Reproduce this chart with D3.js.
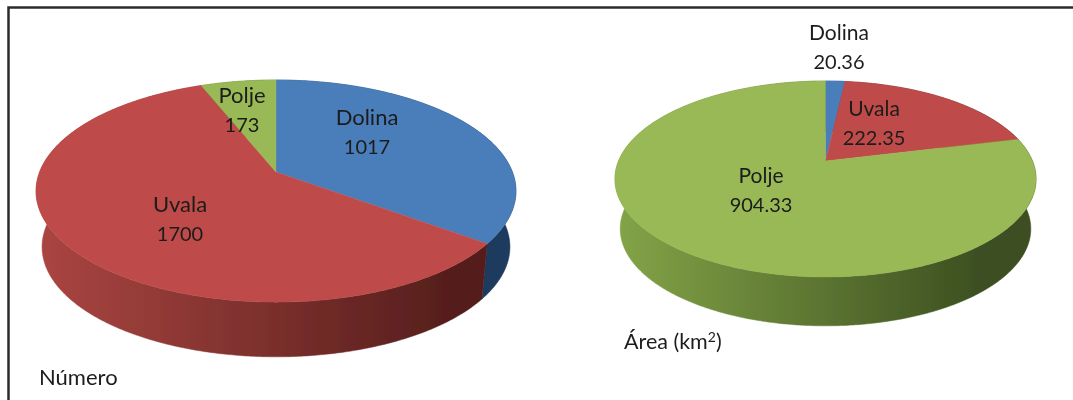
<!DOCTYPE html>
<html><head><meta charset="utf-8">
<script src="https://cdn.jsdelivr.net/npm/d3@7"></script>
<style>html,body{margin:0;background:#fff;overflow:hidden}text{font-family:Lato,"Open Sans",sans-serif;fill:#1c1c1c}</style>
</head><body><svg id="c" width="1073" height="400"></svg>
<script>
const categories = ["Dolina","Uvala","Polje"];
const numeroValues = [1017,1700,173];
const numeroLabels = ["1017","1700","173"];
const areaValues = [20.36,222.35,904.33];
const areaLabels = ["20.36","222.35","904.33"];
const topColors = ["#4a7ebb","#be4b48","#98b954"];
const wallLeft = ["#2c5687","#aa4541","#83a347"];
const wallRight = ["#1c3a5e","#551e1c","#3c4f20"];

const svg = d3.select("#c");
const defs = svg.append("defs");
defs.append("filter").attr("id","soft").append("feGaussianBlur").attr("stdDeviation",0.6);
const root = svg.append("g").attr("filter","url(#soft)");
root.append("path").attr("d","M8.5 400V7.5H1073").attr("fill","none").attr("stroke","#2c2c2c").attr("stroke-width",2.5);

function drawPie(id, values, o){
  const pie = d3.pie().sort(null).startAngle(0).endAngle(2*Math.PI)(values);
  const top = a => { const u=Math.sin(a), v=-Math.cos(a), w=1-o.k*v;
    return [o.cx+o.rx*u/w, o.cy+o.ry*v/w]; };
  const bot = a => { const u=Math.sin(a), v=-Math.cos(a), w=1-o.k*v;
    return [o.cx+o.rx*o.bs*u/w, o.cy+o.depth+o.ry*o.bsy*v/w]; };
  const g = root.append("g");
  const line = d3.line();
  pie.forEach((s,i)=>{
    const gid=id+"w"+i;
    const lg=defs.append("linearGradient").attr("id",gid).attr("gradientUnits","userSpaceOnUse")
      .attr("x1",o.cx-o.rx).attr("x2",o.cx+o.rx*0.75).attr("y1",0).attr("y2",0);
    lg.append("stop").attr("offset",0).attr("stop-color",wallLeft[i]);
    lg.append("stop").attr("offset",1).attr("stop-color",wallRight[i]);
    const as=d3.range(s.startAngle,s.endAngle,0.01).concat([s.endAngle]);
    const pts=as.map(top).concat(as.slice().reverse().map(bot));
    g.append("path").attr("d",line(pts)+"Z").attr("fill",`url(#${gid})`).attr("stroke",`url(#${gid})`).attr("stroke-width",0.5);
  });
  pie.forEach((s,i)=>{
    const as=d3.range(s.startAngle,s.endAngle,0.01).concat([s.endAngle]);
    const pts=[[o.cx,o.cy]].concat(as.map(top));
    g.append("path").attr("d",line(pts)+"Z").attr("fill",topColors[i]).attr("stroke",topColors[i]).attr("stroke-width",0.4);
  });
}
drawPie("a",numeroValues,{cx:276,cy:172,rx:236.4,ry:107.8,k:0.1716,depth:56,bs:0.975,bsy:0.99});
drawPie("b",areaValues,{cx:825.5,cy:161,rx:207,ry:94.7,k:0.1837,depth:50,bs:0.975,bsy:0.99});

function label(x,y,a,b,size){
  const t=root.append("g").attr("text-anchor","middle");
  t.append("text").attr("x",x).attr("y",y).style("font-size",size+"px").text(a);
  t.append("text").attr("x",x).attr("y",y+29).style("font-size","20px").text(b);
}
label(367,125,categories[0],numeroLabels[0],22);
label(180,212,categories[1],numeroLabels[1],22);
label(242,103,categories[2],numeroLabels[2],22);
label(839,40,categories[0],areaLabels[0],21);
label(874,116,categories[1],areaLabels[1],21);
label(761,183,categories[2],areaLabels[2],21);
root.append("text").attr("x",39).attr("y",385).style("font-size","22px").text("Número");
const ar=root.append("text").attr("x",624).attr("y",349).style("font-size","21.5px");
ar.append("tspan").text("Área (km");
ar.append("tspan").attr("dy",-7).style("font-size","14px").text("2");
ar.append("tspan").attr("dy",7).text(")");
</script></body></html>
